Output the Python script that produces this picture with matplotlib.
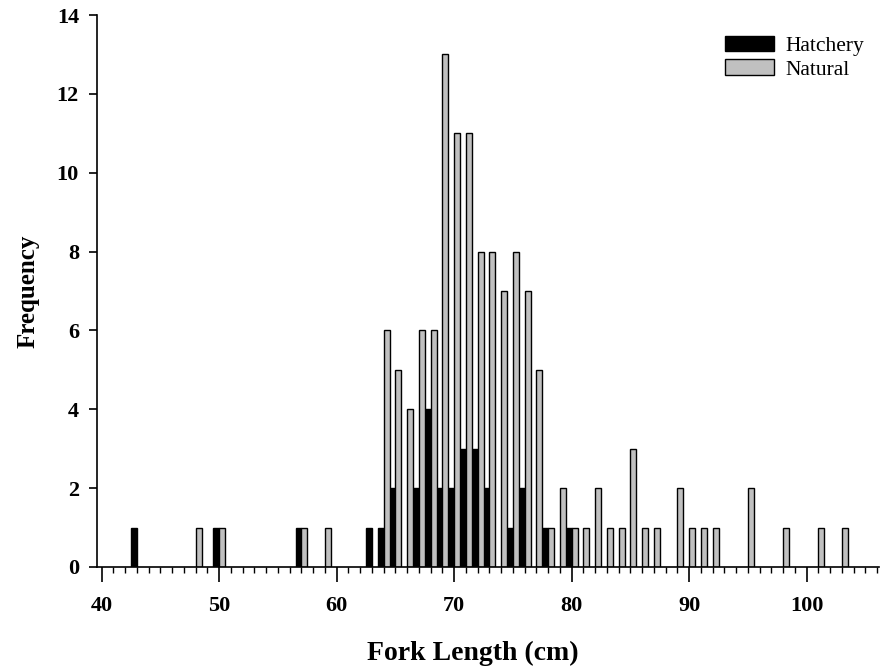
import matplotlib
matplotlib.use("Agg")
import matplotlib.pyplot as plt
from matplotlib.ticker import MultipleLocator

# ---------------------------------------------------------
# Data: fork length (cm) bins and counts
# ---------------------------------------------------------
hatch_len = [43, 50, 57, 63, 64, 65, 67, 68, 69, 70, 71, 72, 73, 75, 76, 78, 80]
hatch_n = [1, 1, 1, 1, 1, 2, 2, 4, 2, 2, 3, 3, 2, 1, 2, 1, 1]

nat_len = [48, 50, 57, 59, 64, 65, 66, 67, 68, 69, 70, 71, 72, 73, 74, 75,
           76, 77, 78, 79, 80, 81, 82, 83, 84, 85, 86, 87, 89, 90, 91, 92,
           95, 98, 101, 103]
nat_n = [1, 1, 1, 1, 6, 5, 4, 6, 6, 13, 11, 11, 8, 8, 7, 8,
         7, 5, 1, 2, 1, 1, 2, 1, 1, 3, 1, 1, 2, 1, 1, 1,
         2, 1, 1, 1]

x_ticks = [40, 50, 60, 70, 80, 90, 100]
y_ticks = [0, 2, 4, 6, 8, 10, 12, 14]

# ---------------------------------------------------------
# Figure
# ---------------------------------------------------------
plt.rcParams["font.family"] = ["Liberation Serif", "DejaVu Serif"]

fig = plt.figure(figsize=(8.8, 6.66), dpi=100)
ax = fig.add_axes([97 / 880, (666 - 567) / 666, (879 - 97) / 880, (567 - 15) / 666])

w = 0.5
ax.bar([x - w for x in hatch_len], hatch_n, width=w, align="edge",
       color="black", edgecolor="black", linewidth=1.0, label="Hatchery")
ax.bar(nat_len, nat_n, width=w, align="edge",
       color="#c0c0c0", edgecolor="black", linewidth=1.0, label="Natural")

ax.set_xlim(39.6, 106.15)
ax.set_ylim(0, 14)
ax.set_xticks(x_ticks)
ax.set_yticks(y_ticks)
ax.xaxis.set_minor_locator(MultipleLocator(1))

ax.spines["top"].set_visible(False)
ax.spines["right"].set_visible(False)
ax.spines["left"].set_linewidth(1.2)
ax.spines["bottom"].set_linewidth(1.2)

ax.tick_params(axis="x", which="major", direction="out", length=11, width=1.2,
               pad=10, labelsize=16)
ax.tick_params(axis="x", which="minor", direction="out", length=4.5, width=1.0)
ax.tick_params(axis="y", which="major", direction="out", length=6, width=1.2,
               pad=7, labelsize=16)
for lbl in ax.get_xticklabels() + ax.get_yticklabels():
    lbl.set_fontweight("bold")

ax.set_xlabel("Fork Length (cm)", fontsize=20, fontweight="bold")
ax.xaxis.set_label_coords(0.48, -0.133)
ax.set_ylabel("Frequency", fontsize=18, fontweight="bold", labelpad=12)

ax.legend(loc="upper right", bbox_to_anchor=(1.0, 0.99), frameon=False,
          fontsize=15.5, handlelength=2.3, handleheight=0.75, labelspacing=0.15,
          handletextpad=0.5, borderaxespad=0.3)

# ---------------------------------------------------------
# Save
# ---------------------------------------------------------
fig.savefig("out.png", dpi=100)
